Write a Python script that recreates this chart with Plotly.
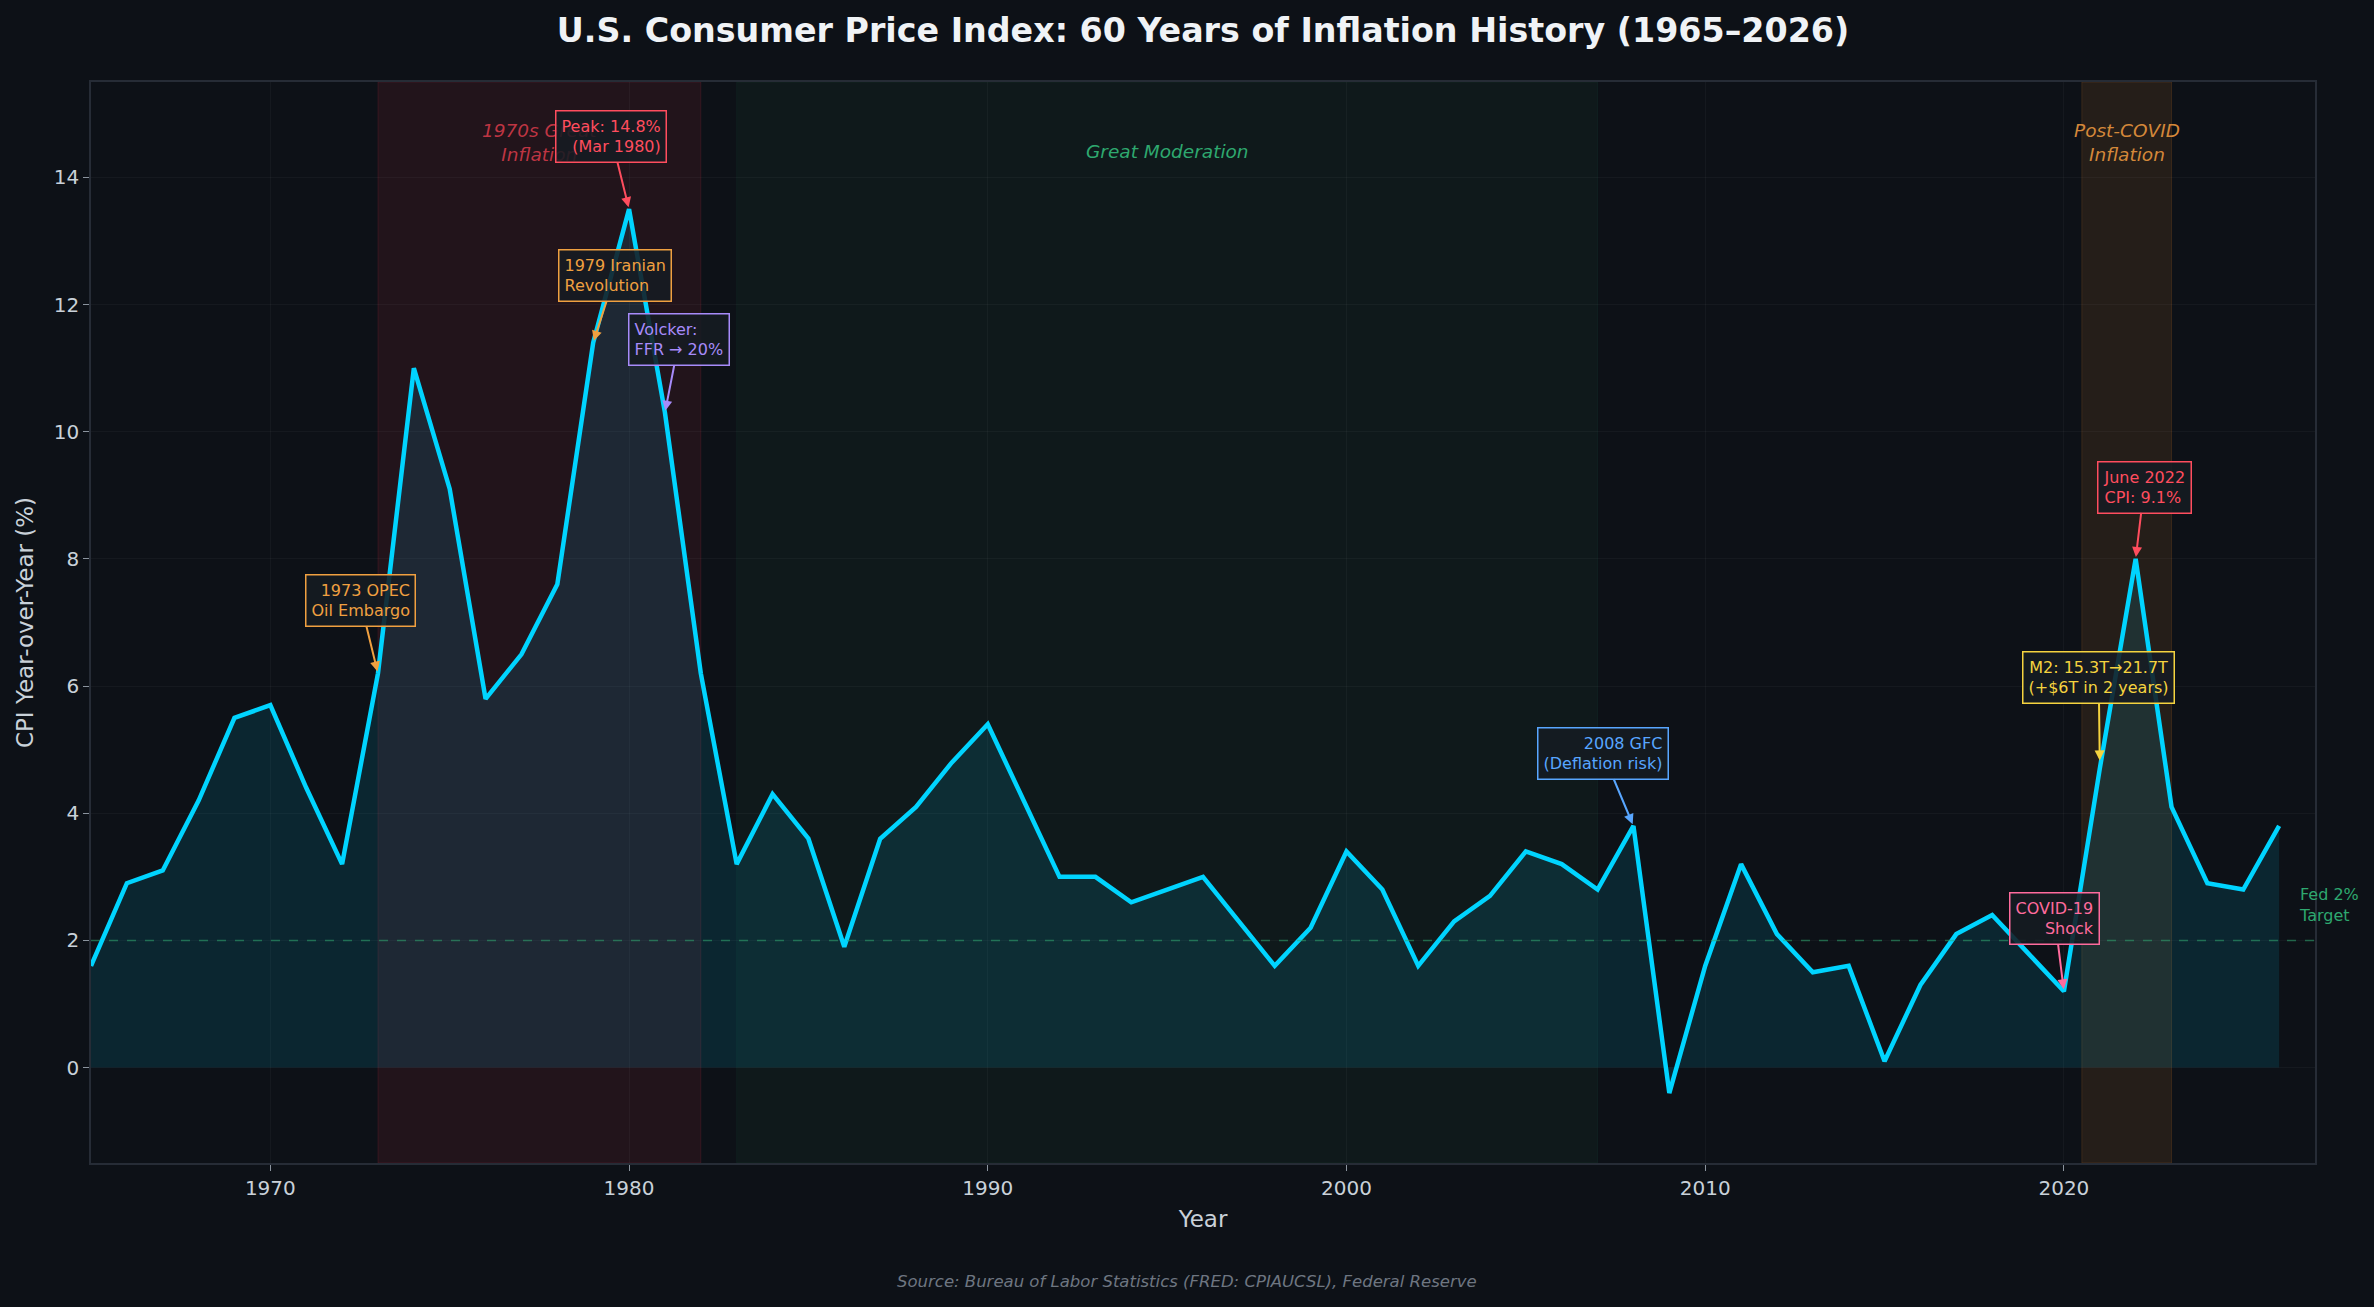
import plotly.graph_objects as go

years = list(range(1965, 2027))
cpi_yoy = [1.6, 2.9, 3.1, 4.2, 5.5, 5.7, 4.4, 3.2, 6.2, 11.0,
           9.1, 5.8, 6.5, 7.6, 11.4, 13.5, 10.3, 6.2, 3.2, 4.3,
           3.6, 1.9, 3.6, 4.1, 4.8, 5.4, 4.2, 3.0, 3.0, 2.6,
           2.8, 3.0, 2.3, 1.6, 2.2, 3.4, 2.8, 1.6, 2.3, 2.7,
           3.4, 3.2, 2.8, 3.8, -0.4, 1.6, 3.2, 2.1, 1.5, 1.6,
           0.1, 1.3, 2.1, 2.4, 1.8, 1.2, 4.7, 8.0, 4.1, 2.9,
           2.8, 3.8]

fed_target = 2.0

# shaded eras
eras_start = [1973, 1983, 2020.5]
eras_end = [1982, 2007, 2023]
eras_label = ["1970s Great<br>Inflation", "Great Moderation", "Post-COVID<br>Inflation"]
eras_label_x = [1977.5, 1995, 2021.75]
eras_label_y = [14.55, 14.4, 14.55]
eras_fill = ["rgba(255,60,80,0.09)", "rgba(46,160,110,0.06)", "rgba(255,150,50,0.10)"]
eras_edge = ["rgba(255,60,80,0.12)", "rgba(46,160,110,0.08)", "rgba(255,150,50,0.14)"]
eras_font = ["rgba(220,60,75,0.85)", "#2ea86f", "#d4883a"]

# event annotations
ev_text = ["1973 OPEC<br>Oil Embargo", "1979 Iranian<br>Revolution", "Peak: 14.8%<br>(Mar 1980)",
           "Volcker:<br>FFR → 20%", "2008 GFC<br>(Deflation risk)", "COVID-19<br>Shock",
           "M2: 15.3T→21.7T<br>(+$6T in 2 years)", "June 2022<br>CPI: 9.1%"]
ev_x = [1973, 1979, 1980, 1981, 2008, 2020, 2021, 2022]
ev_y = [6.2, 11.4, 13.5, 10.3, 3.8, 1.2, 4.8, 8.0]
ev_tx = [1972.5, 1979.6, 1979.5, 1981.4, 2007.15, 2019.75, 2020.97, 2022.24]
ev_ty = [7.35, 12.45, 14.64, 11.45, 4.94, 2.34, 6.13, 9.13]
ev_color = ["#f0a040", "#f0a040", "#ff4d5e", "#a78bfa", "#58a6ff", "#ff6b9d", "#f5d33f", "#ff4d5e"]
ev_align = ["right", "left", "right", "left", "right", "right", "center", "left"]

BG = "#0d1117"
FONT = "DejaVu Sans"

fig = go.Figure()

fig.add_trace(go.Scatter(
    x=years, y=cpi_yoy, mode="lines",
    line=dict(color="#00d4ff", width=4.5),
    fill="tozeroy", fillcolor="rgba(0,212,255,0.11)",
    hoverinfo="x+y", showlegend=False,
))

shapes = []
for s, e, c, ec in zip(eras_start, eras_end, eras_fill, eras_edge):
    shapes.append(dict(type="rect", xref="x", yref="paper", x0=s, x1=e, y0=0, y1=1,
                       fillcolor=c, line=dict(width=1, color=ec), layer="below"))
shapes.append(dict(type="line", xref="paper", yref="y", x0=0, x1=1, y0=fed_target, y1=fed_target,
                   line=dict(color="rgba(46,168,111,0.55)", width=1.5, dash="dash"), layer="above"))
fig.update_layout(shapes=shapes)

annotations = []
for lab, lx, ly, fc in zip(eras_label, eras_label_x, eras_label_y, eras_font):
    annotations.append(dict(x=lx, y=ly, xref="x", yref="y", text="<i>" + lab + "</i>",
                            showarrow=False, font=dict(family=FONT, size=18.5, color=fc)))

for t, x, y, tx, ty, c, al in zip(ev_text, ev_x, ev_y, ev_tx, ev_ty, ev_color, ev_align):
    annotations.append(dict(
        x=x, y=y, xref="x", yref="y", ax=tx, ay=ty, axref="x", ayref="y",
        text=t, showarrow=True, arrowhead=2, arrowsize=1, arrowwidth=2, arrowcolor=c,
        standoff=2, align=al,
        font=dict(family=FONT, size=16, color=c),
        bgcolor="rgba(22,27,34,0.88)", bordercolor=c, borderwidth=1.5, borderpad=5,
    ))

annotations.append(dict(x=2026.5, y=2.55, xref="x", yref="y", text="Fed 2%<br>Target",
                        showarrow=False, xanchor="left", align="left",
                        font=dict(family=FONT, size=16, color="#2ea86f")))

annotations.append(dict(x=(1187 - 91) / (2315 - 91), y=-(1281 - 1163) / (1163 - 82),
                        xref="paper", yref="paper", yanchor="middle", xanchor="center",
                        text="<i>Source: Bureau of Labor Statistics (FRED: CPIAUCSL), Federal Reserve</i>",
                        showarrow=False, font=dict(family=FONT, size=16.5, color="#6e7681")))

fig.update_layout(
    annotations=annotations,
    width=2374, height=1307,
    paper_bgcolor=BG, plot_bgcolor=BG,
    margin=dict(l=91, r=59, t=82, b=144),
    title=dict(text="<b>U.S. Consumer Price Index: 60 Years of Inflation History (1965–2026)</b>",
               xref="paper", x=0.5, xanchor="center", y=1 - 30 / 1307, yanchor="middle",
               font=dict(family=FONT, size=33.3, color="#f0f3f6")),
    font=dict(family=FONT, color="#c9d1d9"),
    xaxis=dict(
        range=[1965, 2027], tickmode="array", tickvals=[1970, 1980, 1990, 2000, 2010, 2020],
        showgrid=True, gridcolor="rgba(255,255,255,0.035)", zeroline=False,
        ticks="outside", ticklen=6, tickcolor="#8b949e", tickfont=dict(size=20, color="#c9d1d9"),
        showline=True, linecolor="#262c36", mirror=True, linewidth=1.5,
        title=dict(text="Year", font=dict(size=23, color="#c9d1d9"), standoff=12),
    ),
    yaxis=dict(
        range=[-1.5, 15.5], tickmode="array", tickvals=[0, 2, 4, 6, 8, 10, 12, 14],
        showgrid=True, gridcolor="rgba(255,255,255,0.035)", zeroline=False,
        ticks="outside", ticklen=6, tickcolor="#8b949e", tickfont=dict(size=20, color="#c9d1d9"),
        showline=True, linecolor="#262c36", mirror=True, linewidth=1.5,
        title=dict(text="CPI Year-over-Year (%)", font=dict(size=23, color="#c9d1d9"), standoff=14),
    ),
)

fig.write_html("out.html")
